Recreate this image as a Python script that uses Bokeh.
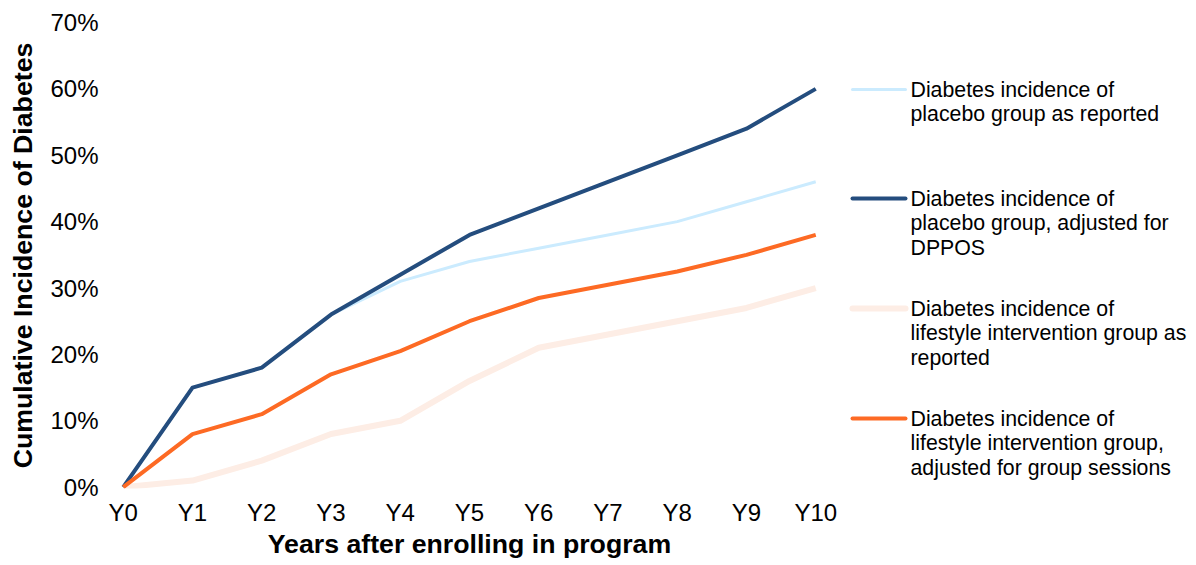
from bokeh.plotting import figure
from bokeh.layouts import row
from bokeh.models import Range1d, FixedTicker, NumeralTickFormatter
from bokeh.core.properties import value
from bokeh.embed import file_html
from bokeh.resources import INLINE

# ---- data ----
years = [0, 1, 2, 3, 4, 5, 6, 7, 8, 9, 10]
year_labels = ["Y0", "Y1", "Y2", "Y3", "Y4", "Y5", "Y6", "Y7", "Y8", "Y9", "Y10"]
placebo_reported = [0.0, 0.15, 0.18, 0.26, 0.31, 0.34, 0.36, 0.38, 0.40, 0.43, 0.46]
placebo_adjusted = [0.0, 0.15, 0.18, 0.26, 0.32, 0.38, 0.42, 0.46, 0.50, 0.54, 0.60]
lifestyle_reported = [0.0, 0.01, 0.04, 0.08, 0.10, 0.16, 0.21, 0.23, 0.25, 0.27, 0.30]
lifestyle_adjusted = [0.0, 0.08, 0.11, 0.17, 0.205, 0.25, 0.285, 0.305, 0.325, 0.35, 0.38]
y_ticks = [0.0, 0.1, 0.2, 0.3, 0.4, 0.5, 0.6, 0.7]

series_names = [
    ["Diabetes incidence of", "placebo group as reported"],
    ["Diabetes incidence of", "placebo group, adjusted for", "DPPOS"],
    ["Diabetes incidence of", "lifestyle intervention group as", "reported"],
    ["Diabetes incidence of", "lifestyle intervention group,", "adjusted for group sessions"],
]
series_colors = ["#CBEBFE", "#244D7E", "#FDEDE5", "#FD6A24"]
series_widths = [3, 4, 6, 4]
series_values = [placebo_reported, placebo_adjusted, lifestyle_reported, lifestyle_adjusted]

FONT = "Liberation Sans"
H = 565
TOP = 22
BOTTOM = 77
FRAME_BOTTOM = H - BOTTOM

p = figure(width=841, height=H, output_backend="svg", toolbar_location=None,
           x_range=Range1d(-0.04, 10.04), y_range=Range1d(-0.002, 0.70),
           min_border_left=120, min_border_right=23, min_border_top=TOP,
           min_border_bottom=BOTTOM)
p.outline_line_color = None
p.xgrid.visible = False
p.ygrid.visible = False
p.background_fill_color = "white"
p.border_fill_color = "white"

# draw order: peach, light blue, navy, orange
for idx in [2, 0, 1, 3]:
    p.line(years, series_values[idx], line_color=series_colors[idx],
           line_width=series_widths[idx], line_join="round")

p.xaxis.ticker = FixedTicker(ticks=years)
p.xaxis.major_label_overrides = {y: lab for y, lab in zip(years, year_labels)}
p.yaxis.ticker = FixedTicker(ticks=y_ticks)
p.yaxis.formatter = NumeralTickFormatter(format="0%")

for ax in (p.xaxis[0], p.yaxis[0]):
    ax.axis_line_color = None
    ax.major_tick_line_color = None
    ax.minor_tick_line_color = None
    ax.major_tick_out = 0
    ax.major_tick_in = 0
    ax.major_label_text_font = FONT
    ax.major_label_text_font_size = "24px"
    ax.major_label_text_color = "#000000"
    ax.axis_label_text_font = FONT
    ax.axis_label_text_font_size = "26.7px"
    ax.axis_label_text_font_style = "bold"
    ax.axis_label_text_color = "#000000"

p.xaxis.axis_label = "Years after enrolling in program"
p.yaxis.axis_label = "Cumulative Incidence of Diabetes"
p.xaxis.major_label_standoff = 10
p.xaxis.axis_label_standoff = 0
p.yaxis.major_label_standoff = 22
p.yaxis.axis_label_standoff = 9

# ---- legend panel (frame aligned with the main plot frame; units = page pixels) ----
LW = 1196 - 841
lg = figure(width=LW, height=H, output_backend="svg", toolbar_location=None,
            x_range=Range1d(0, LW), y_range=Range1d(FRAME_BOTTOM, TOP),
            min_border_left=0, min_border_right=0, min_border_top=TOP,
            min_border_bottom=BOTTOM, x_axis_type=None, y_axis_type=None)
lg.outline_line_color = None
lg.xgrid.visible = False
lg.ygrid.visible = False

entry_top = [89, 198, 308, 418]
line_gap = 24.5
for i in range(4):
    y0 = entry_top[i]
    lg.line([11, 64], [y0, y0], line_color=series_colors[i],
            line_width=series_widths[i], line_cap="round")
    ys = [y0 + k * line_gap for k in range(len(series_names[i]))]
    lg.text(x=[69] * len(ys), y=ys, text=series_names[i],
            text_font=value(FONT), text_font_size="21.3px",
            text_baseline="middle", text_align="left", text_color="#000000")

layout = row(p, lg)
open("out.html", "w").write(file_html(layout, INLINE))
